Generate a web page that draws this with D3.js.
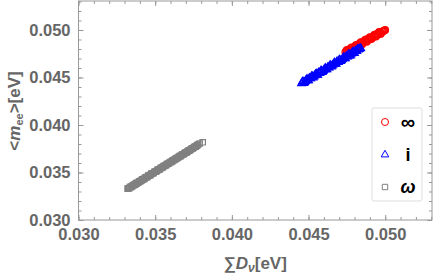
<!DOCTYPE html>
<html>
<head>
<meta charset="utf-8">
<script src="https://cdn.jsdelivr.net/npm/d3@7"></script>
<style>
  body { margin: 0; background: #fff; }
  svg { display: block; font-family: "Liberation Sans", Arial, sans-serif; }
</style>
</head>
<body>
<svg id="chart" width="436" height="275"></svg>
<script>
// values: [sum D_v, <m_ee>] in eV
const redPoints = [
  [0.0474, 0.04766], [0.0475, 0.04790], [0.0476, 0.04769], [0.0477, 0.04793], [0.0478, 0.04817],
  [0.0479, 0.04796], [0.0480, 0.04820], [0.0481, 0.04844], [0.0482, 0.04823], [0.0483, 0.04847],
  [0.0484, 0.04871], [0.0485, 0.04850], [0.0486, 0.04874], [0.0487, 0.04898], [0.0488, 0.04877],
  [0.0489, 0.04901], [0.0490, 0.04925], [0.0491, 0.04904], [0.0492, 0.04928], [0.0493, 0.04952],
  [0.0494, 0.04931], [0.0495, 0.04955], [0.0496, 0.04979], [0.0497, 0.04958], [0.0498, 0.04982],
  [0.0499, 0.04991], [0.0500, 0.05000],
  [0.04745, 0.04779], [0.04755, 0.04772], [0.04765, 0.04797], [0.04775, 0.04790], [0.04785, 0.04815],
  [0.04795, 0.04808], [0.04805, 0.04833], [0.04815, 0.04826], [0.04825, 0.04851], [0.04835, 0.04844],
  [0.04845, 0.04869], [0.04855, 0.04862], [0.04865, 0.04887], [0.04875, 0.04880], [0.04885, 0.04905],
  [0.04895, 0.04898], [0.04905, 0.04923], [0.04915, 0.04916], [0.04925, 0.04941], [0.04935, 0.04934],
  [0.04945, 0.04959], [0.04955, 0.04952], [0.04965, 0.04977], [0.04975, 0.04970], [0.04985, 0.04987],
  [0.04995, 0.04996]
];
const bluePoints = [
  [0.04454, 0.04439], [0.0446, 0.04457], [0.0447, 0.04443], [0.0448, 0.04464], [0.0449, 0.04486],
  [0.0450, 0.04471], [0.0451, 0.04493], [0.0452, 0.04514], [0.0453, 0.04500], [0.0454, 0.04522],
  [0.0455, 0.04543], [0.0456, 0.04529], [0.0457, 0.04550], [0.0458, 0.04572], [0.0459, 0.04558],
  [0.0460, 0.04579], [0.0461, 0.04601], [0.0462, 0.04586], [0.0463, 0.04608], [0.0464, 0.04630],
  [0.0465, 0.04615], [0.0466, 0.04637], [0.0467, 0.04658], [0.0468, 0.04644], [0.0469, 0.04666],
  [0.0470, 0.04687], [0.0471, 0.04673], [0.0472, 0.04694], [0.0473, 0.04716], [0.0474, 0.04702],
  [0.0475, 0.04723], [0.0476, 0.04745], [0.0477, 0.04730], [0.0478, 0.04752], [0.0479, 0.04774],
  [0.0480, 0.04759], [0.0481, 0.04781], [0.0482, 0.04802], [0.0483, 0.04800], [0.0484, 0.04810],
  [0.04465, 0.04457], [0.04475, 0.04452], [0.04485, 0.04476], [0.04495, 0.04471], [0.04505, 0.04495],
  [0.04515, 0.04491], [0.04525, 0.04514], [0.04535, 0.04510], [0.04545, 0.04533], [0.04555, 0.04529],
  [0.04565, 0.04553], [0.04575, 0.04548], [0.04585, 0.04572], [0.04595, 0.04567], [0.04605, 0.04591],
  [0.04615, 0.04587], [0.04625, 0.04610], [0.04635, 0.04606], [0.04645, 0.04629], [0.04655, 0.04625],
  [0.04665, 0.04649], [0.04675, 0.04644], [0.04685, 0.04668], [0.04695, 0.04663], [0.04705, 0.04687],
  [0.04715, 0.04683], [0.04725, 0.04706], [0.04735, 0.04702], [0.04745, 0.04725], [0.04755, 0.04721],
  [0.04765, 0.04745], [0.04775, 0.04740], [0.04785, 0.04764], [0.04795, 0.04759], [0.04805, 0.04783],
  [0.04815, 0.04779], [0.04825, 0.04795], [0.04835, 0.04805]
];
const grayPoints = [
  [0.03320, 0.03330], [0.03330, 0.03334], [0.03340, 0.03346], [0.03350, 0.03352], [0.03360, 0.03365],
  [0.03370, 0.03372], [0.03380, 0.03385], [0.03390, 0.03392], [0.03400, 0.03406], [0.03410, 0.03413],
  [0.03420, 0.03426], [0.03430, 0.03433], [0.03440, 0.03447], [0.03450, 0.03453], [0.03460, 0.03467],
  [0.03470, 0.03474], [0.03480, 0.03487], [0.03490, 0.03494], [0.03500, 0.03508], [0.03510, 0.03515],
  [0.03520, 0.03528], [0.03530, 0.03535], [0.03540, 0.03549], [0.03550, 0.03556], [0.03560, 0.03569],
  [0.03570, 0.03576], [0.03580, 0.03590], [0.03590, 0.03597], [0.03600, 0.03610], [0.03610, 0.03617],
  [0.03620, 0.03631], [0.03630, 0.03638], [0.03640, 0.03651], [0.03650, 0.03658], [0.03660, 0.03672],
  [0.03670, 0.03679], [0.03680, 0.03692], [0.03690, 0.03699], [0.03700, 0.03713], [0.03710, 0.03720],
  [0.03720, 0.03733], [0.03730, 0.03740], [0.03740, 0.03754], [0.03750, 0.03761], [0.03760, 0.03774],
  [0.03770, 0.03781], [0.03790, 0.03805], [0.03810, 0.03818],
  [0.03325, 0.03332], [0.03335, 0.03348], [0.03345, 0.03352], [0.03355, 0.03368], [0.03365, 0.03372],
  [0.03375, 0.03388], [0.03385, 0.03392], [0.03395, 0.03408], [0.03405, 0.03412], [0.03415, 0.03428],
  [0.03425, 0.03432], [0.03435, 0.03448], [0.03445, 0.03452], [0.03455, 0.03468], [0.03465, 0.03472],
  [0.03475, 0.03488], [0.03485, 0.03492], [0.03495, 0.03508], [0.03505, 0.03512], [0.03515, 0.03528],
  [0.03525, 0.03532], [0.03535, 0.03548], [0.03545, 0.03552], [0.03555, 0.03568], [0.03565, 0.03572],
  [0.03575, 0.03588], [0.03585, 0.03592], [0.03595, 0.03608], [0.03605, 0.03612], [0.03615, 0.03628],
  [0.03625, 0.03632], [0.03635, 0.03648], [0.03645, 0.03652], [0.03655, 0.03668], [0.03665, 0.03672],
  [0.03675, 0.03688], [0.03685, 0.03692], [0.03695, 0.03708], [0.03705, 0.03712], [0.03715, 0.03728],
  [0.03725, 0.03732], [0.03735, 0.03748], [0.03745, 0.03752], [0.03755, 0.03768], [0.03765, 0.03772],
  [0.03775, 0.03788], [0.03780, 0.03795]
];
const majorTicks = [0.030, 0.035, 0.040, 0.045, 0.050];
const minorTicks = d3.range(30, 54).map(d => d / 1000);
const legendLabels = ["\u221E", "i", "\u03C9"];

const svg = d3.select("#chart");
const plotLeft = 78.5, plotRight = 432, plotTop = 1, plotBottom = 220;
const axisColor = "#999", textColor = "#666";

const x = d3.scaleLinear().domain([0.030, 0.05305]).range([plotLeft, plotRight]);
const y = d3.scaleLinear().domain([0.030, 0.05305]).range([plotBottom, plotTop]);

// frame
svg.append("rect")
  .attr("x", plotLeft).attr("y", plotTop)
  .attr("width", plotRight - plotLeft).attr("height", plotBottom - plotTop)
  .attr("fill", "none").attr("stroke", axisColor).attr("stroke-width", 1);

// inward ticks on all four sides
function addAxis(axisFn, scale, tx, ty, showLabels) {
  let minor = axisFn(scale).tickValues(minorTicks).tickSize(-3).tickFormat("");
  let major = axisFn(scale).tickValues(majorTicks).tickSize(-5).tickPadding(8)
    .tickFormat(showLabels ? d3.format(".3f") : "");
  [minor, major].forEach(a => {
    let g = svg.append("g").attr("transform", "translate(" + tx + "," + ty + ")").call(a);
    g.select(".domain").remove();
    g.selectAll("line").attr("stroke", axisColor);
    g.selectAll("text")
      .attr("fill", textColor)
      .attr("font-size", 16.5)
      .attr("font-weight", "bold");
  });
}
addAxis(d3.axisBottom, x, 0, plotBottom, true);
addAxis(d3.axisTop, x, 0, plotTop, false);
addAxis(d3.axisLeft, y, plotLeft, 0, true);
addAxis(d3.axisRight, y, plotRight, 0, false);

// markers
const trianglePath = "M0,-4.2L3.8,2.4L-3.8,2.4Z";
const squarePath = "M-2.7,-2.7H2.7V2.7H-2.7Z";

svg.append("g").selectAll("circle")
  .data(redPoints).enter().append("circle")
  .attr("cx", d => x(d[0])).attr("cy", d => y(d[1])).attr("r", 3.3)
  .attr("fill", "none").attr("stroke", "#ff0000").attr("stroke-width", 1.2);

svg.append("g").selectAll("path")
  .data(bluePoints).enter().append("path")
  .attr("d", trianglePath)
  .attr("transform", d => "translate(" + x(d[0]) + "," + y(d[1]) + ")")
  .attr("fill", "none").attr("stroke", "#0000ff").attr("stroke-width", 1.2);

svg.append("g").selectAll("path")
  .data(grayPoints).enter().append("path")
  .attr("d", squarePath)
  .attr("transform", d => "translate(" + x(d[0]) + "," + y(d[1]) + ")")
  .attr("fill", "none").attr("stroke", "#808080").attr("stroke-width", 1.2);

// legend
const legend = svg.append("g").attr("transform", "translate(372,108)");
legend.append("rect")
  .attr("width", 50).attr("height", 93).attr("rx", 2)
  .attr("fill", "#fff").attr("stroke", "#ddd");

const legendItems = legend.selectAll("g.item")
  .data(legendLabels).enter().append("g")
  .attr("class", "item")
  .attr("transform", (d, i) => "translate(0," + (14 + i * 32.5) + ")");

legendItems.each(function (d, i) {
  let g = d3.select(this);
  if (i === 0) {
    g.append("circle").attr("cx", 13).attr("cy", 0).attr("r", 3.5)
      .attr("fill", "none").attr("stroke", "#ff0000");
  } else if (i === 1) {
    g.append("path").attr("d", trianglePath).attr("transform", "translate(13,0)")
      .attr("fill", "none").attr("stroke", "#0000ff");
  } else {
    g.append("path").attr("d", squarePath).attr("transform", "translate(13,0)")
      .attr("fill", "none").attr("stroke", "#808080");
  }
  g.append("text")
    .attr("x", 36).attr("y", i === 0 ? 7 : 6)
    .attr("text-anchor", "middle")
    .attr("font-size", i === 0 ? 20 : 18)
    .attr("font-weight", "bold")
    .attr("font-style", i === 2 ? "italic" : "normal")
    .attr("fill", "#000")
    .text(d);
});

// axis titles
let xTitle = svg.append("text")
  .attr("x", (plotLeft + plotRight) / 2).attr("y", 269)
  .attr("text-anchor", "middle")
  .attr("font-size", 17).attr("font-weight", "bold").attr("fill", textColor);
xTitle.append("tspan").text("\u2211");
xTitle.append("tspan").attr("font-style", "italic").text("D");
xTitle.append("tspan").attr("font-style", "italic").attr("font-size", 12).attr("dy", 3).text("\u03BD");
xTitle.append("tspan").attr("dy", -3).text("[eV]");

let yTitle = svg.append("text")
  .attr("transform", "translate(19.5,111) rotate(-90)")
  .attr("text-anchor", "middle")
  .attr("font-size", 17).attr("font-weight", "bold").attr("fill", textColor);
yTitle.append("tspan").text("<");
yTitle.append("tspan").attr("font-style", "italic").text("m");
yTitle.append("tspan").attr("font-size", 11).attr("dy", 3).text("ee");
yTitle.append("tspan").attr("dy", -3).text(">[eV]");
</script>
</body>
</html>
